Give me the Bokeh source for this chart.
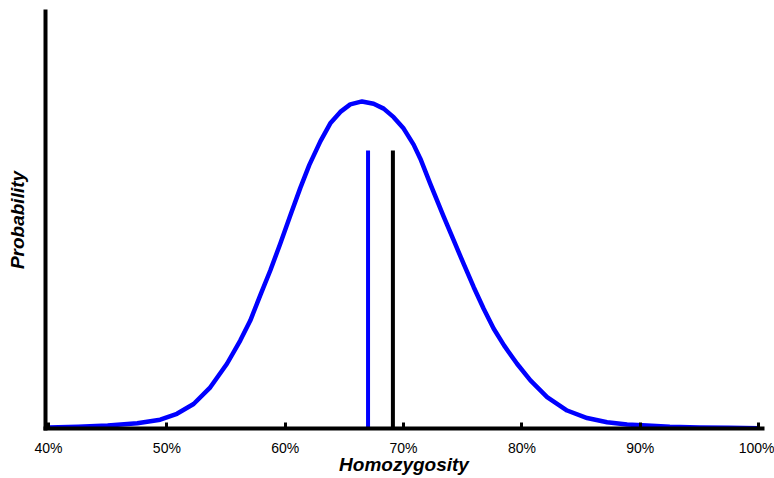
from bokeh.plotting import figure
from bokeh.models import Range1d, FixedTicker
from bokeh.embed import file_html
from bokeh.resources import INLINE

# Curve (homozygosity %, relative probability)
homozygosity = [40, 42.5, 45, 47.5, 49.44, 50.85, 52.26, 53.67, 55.08, 56.20, 57.05,
                57.89, 58.74, 59.58, 60.43, 61.27, 62.04, 62.97, 63.81, 64.66, 65.50,
                66.49, 67.47, 68.32, 69.16, 70.01, 70.85, 71.42, 72.26, 73.39, 74.24,
                75.08, 75.93, 76.77, 77.62, 78.49, 79.59, 80.72, 82.13, 83.82, 85.51,
                87.20, 88.89, 90.58, 92.5, 95, 97.5, 100]
probability = [0.003, 0.005, 0.009, 0.016, 0.027, 0.045, 0.075, 0.126, 0.198, 0.269,
               0.330, 0.407, 0.483, 0.565, 0.651, 0.735, 0.806, 0.878, 0.933, 0.968,
               0.991, 1.0, 0.993, 0.978, 0.952, 0.917, 0.868, 0.825, 0.748, 0.648,
               0.575, 0.503, 0.432, 0.366, 0.305, 0.254, 0.198, 0.147, 0.096, 0.055,
               0.032, 0.019, 0.012, 0.009, 0.005, 0.003, 0.002, 0.001]

# Vertical markers
marker_x = [67.0, 69.1]
marker_top = [0.85, 0.85]
marker_colors = ["#0000FF", "#000000"]

tick_values = [40, 50, 60, 70, 80, 90, 100]
tick_labels = ["40%", "50%", "60%", "70%", "80%", "90%", "100%"]

FONT = "Liberation Sans"

p = figure(width=774, height=478, output_backend="svg", toolbar_location=None,
           x_range=Range1d(39.746, 100.33), y_range=Range1d(0, 1.275),
           min_border_left=45, min_border_right=12, min_border_top=11,
           min_border_bottom=50)
p.outline_line_color = None
p.grid.visible = False
p.background_fill_color = "white"
p.border_fill_color = "white"

p.line(homozygosity, probability, line_color="#0000FF", line_width=4.5,
       line_join="round")
p.segment(x0=marker_x, y0=[0] * len(marker_x), x1=marker_x, y1=marker_top,
          line_color=marker_colors, line_width=4)

xa = p.xaxis[0]
xa.ticker = FixedTicker(ticks=tick_values)
xa.major_label_overrides = dict(zip(tick_values, tick_labels))
xa.axis_line_width = 4
xa.axis_line_cap = "square"
xa.major_tick_line_width = 3
xa.major_tick_in = 6
xa.major_tick_out = 0
xa.minor_tick_line_color = None
xa.major_label_text_font = FONT
xa.major_label_text_font_size = "14px"
xa.major_label_text_color = "black"
xa.major_label_standoff = 11
xa.axis_label = "Homozygosity"
xa.axis_label_text_font = FONT
xa.axis_label_text_font_style = "bold italic"
xa.axis_label_text_font_size = "19px"
xa.axis_label_text_color = "black"
xa.axis_label_standoff = -5

ya = p.yaxis[0]
ya.ticker = FixedTicker(ticks=[])
ya.axis_line_width = 4
ya.axis_line_cap = "square"
ya.major_tick_in = 0
ya.major_tick_out = 0
ya.minor_tick_line_color = None
ya.major_label_text_font_size = "0px"
ya.axis_label = "Probability"
ya.axis_label_text_font = FONT
ya.axis_label_text_font_style = "bold italic"
ya.axis_label_text_font_size = "19px"
ya.axis_label_text_color = "black"
ya.axis_label_standoff = 18

open("out.html", "w").write(file_html(p, INLINE))
